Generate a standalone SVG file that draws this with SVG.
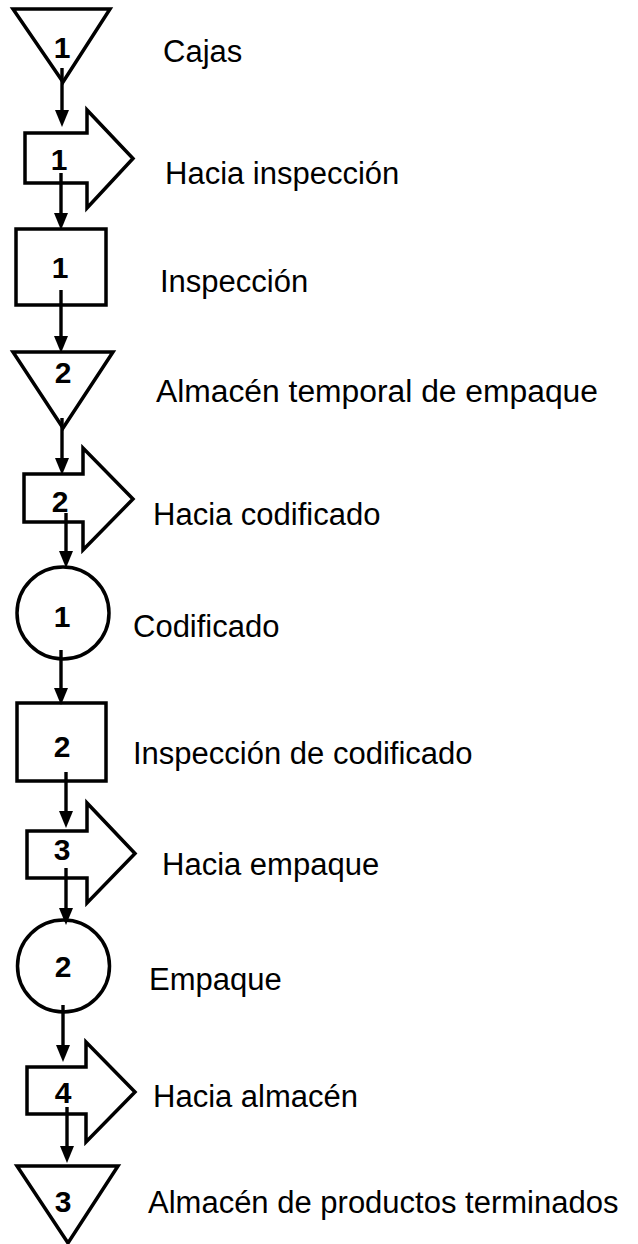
<svg xmlns="http://www.w3.org/2000/svg" width="638" height="1244" viewBox="0 0 638 1244">
<defs>
<style>
.shape{fill:#fff;stroke:#000;stroke-width:3.5;stroke-linejoin:miter}
.num{font-family:"Liberation Sans",Arial,sans-serif;font-weight:bold;font-size:30px;fill:#000;text-anchor:middle}
.lbl{font-family:"Liberation Sans",Arial,sans-serif;font-size:31px;fill:#000}
.conn{stroke:#000;stroke-width:3.4;fill:none}
</style>
<marker id="ah" markerUnits="userSpaceOnUse" markerWidth="18" markerHeight="15" refX="0" refY="7" orient="auto">
<path d="M0,0 L17,7 L0,14 Z" fill="#000"/>
</marker>
</defs>
<rect width="638" height="1244" fill="#fff"/>

<g id="n1">
<polygon class="shape" points="13,9 110,9 63,82"/>
<text class="num" x="62" y="58">1</text>
<text class="lbl" x="163" y="62">Cajas</text>
</g>
<g id="n2">
<polygon class="shape" points="25,133 87,133 87,110 133,158.5 87,208 87,183 25,183"/>
<text class="num" x="59" y="170">1</text>
<text class="lbl" x="165" y="184">Hacia inspección</text>
</g>
<g id="n3">
<rect class="shape" x="16" y="229" width="90" height="76"/>
<text class="num" x="60" y="278">1</text>
<text class="lbl" x="160" y="292">Inspección</text>
</g>
<g id="n4">
<polygon class="shape" points="13,352 113,352 63,428"/>
<text class="num" x="63" y="383">2</text>
<text class="lbl" x="156" y="402" textLength="442" lengthAdjust="spacingAndGlyphs">Almacén temporal de empaque</text>
</g>
<g id="n5">
<polygon class="shape" points="24,474 83,474 83,448 133,499 83,550 83,522 24,522"/>
<text class="num" x="60" y="512">2</text>
<text class="lbl" x="153" y="525">Hacia codificado</text>
</g>
<g id="n6">
<circle class="shape" cx="63" cy="613" r="46"/>
<text class="num" x="62" y="627">1</text>
<text class="lbl" x="133" y="637">Codificado</text>
</g>
<g id="n7">
<rect class="shape" x="17" y="703" width="89" height="78"/>
<text class="num" x="62" y="757">2</text>
<text class="lbl" x="133" y="764">Inspección de codificado</text>
</g>
<g id="n8">
<polygon class="shape" points="27,831 87,831 87,803 135,853.5 87,903 87,878 27,878"/>
<text class="num" x="62" y="860">3</text>
<text class="lbl" x="162" y="875">Hacia empaque</text>
</g>
<g id="n9">
<circle class="shape" cx="63.5" cy="966" r="46"/>
<text class="num" x="63" y="977">2</text>
<text class="lbl" x="149" y="990">Empaque</text>
</g>
<g id="n10">
<polygon class="shape" points="27,1067 86,1067 86,1042 135,1092 86,1142 86,1114 27,1114"/>
<text class="num" x="63" y="1103">4</text>
<text class="lbl" x="153" y="1107">Hacia almacén</text>
</g>
<g id="n11">
<polygon class="shape" points="17,1166 118,1166 68,1243"/>
<text class="num" x="63" y="1212">3</text>
<text class="lbl" x="148" y="1213">Almacén de productos terminados</text>
</g>

<g id="connectors">
<line class="conn" x1="62" y1="68" x2="62" y2="110" marker-end="url(#ah)"/>
<line class="conn" x1="61" y1="173" x2="61" y2="213" marker-end="url(#ah)"/>
<line class="conn" x1="61" y1="290" x2="61" y2="336" marker-end="url(#ah)"/>
<line class="conn" x1="62" y1="418" x2="62" y2="458" marker-end="url(#ah)"/>
<line class="conn" x1="66" y1="513" x2="66" y2="551" marker-end="url(#ah)"/>
<line class="conn" x1="61" y1="650" x2="61" y2="688" marker-end="url(#ah)"/>
<line class="conn" x1="66" y1="772" x2="66" y2="811" marker-end="url(#ah)"/>
<line class="conn" x1="66" y1="868" x2="66" y2="908" marker-end="url(#ah)"/>
<line class="conn" x1="63" y1="1005" x2="63" y2="1045" marker-end="url(#ah)"/>
<line class="conn" x1="67" y1="1107" x2="67" y2="1146" marker-end="url(#ah)"/>
</g>
</svg>
